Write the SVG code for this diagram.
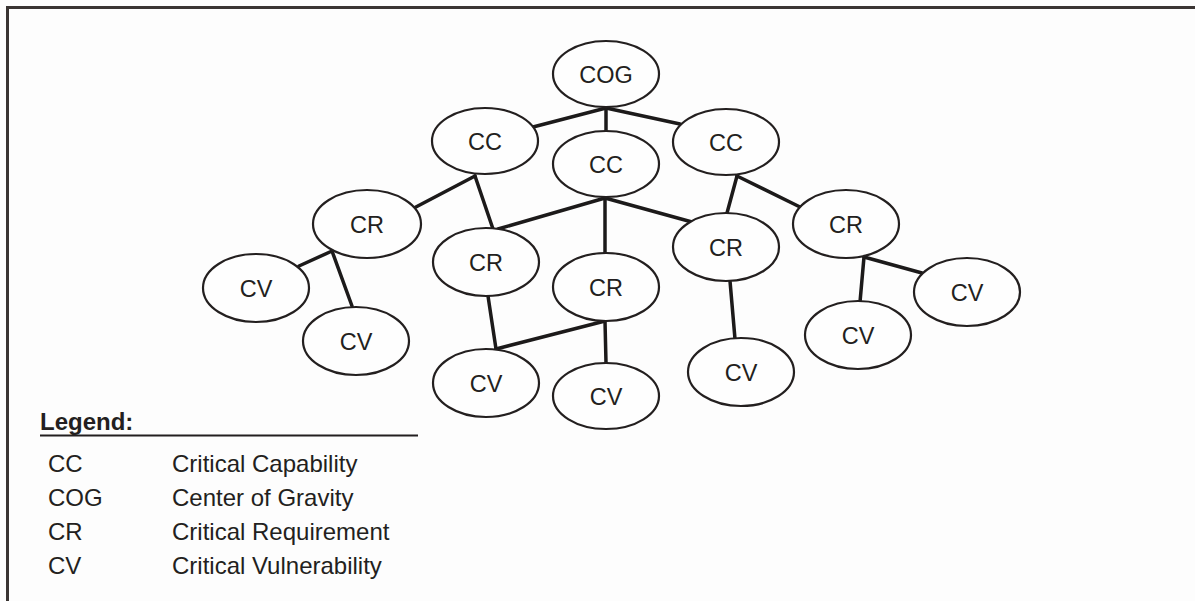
<svg xmlns="http://www.w3.org/2000/svg" width="1195" height="601" viewBox="0 0 1195 601">
<style>
.bg{fill:#fdfdfd}
.frame{stroke:#3a3533;stroke-width:3;fill:none}
.node ellipse{fill:#fefefe;stroke:#231f1f;stroke-width:2.2}
.node text,.legend text{font-family:"Liberation Sans",Arial,sans-serif;font-size:23.5px;fill:#231f20}
.legend text{font-size:24px}
.node text{text-anchor:middle}
#connectors line{stroke:#1c1a1a;stroke-width:3.5;stroke-linecap:round}
.legend .title{font-weight:bold}
</style>
<rect class="bg" x="0" y="0" width="1195" height="601"/>
<path class="frame" d="M7.5,601 V7.5 H1195"/>
<g id="connectors">
<line x1="606" y1="108" x2="533" y2="127"/>
<line x1="606" y1="108" x2="680" y2="124"/>
<line x1="606" y1="108" x2="606" y2="131"/>
<line x1="475" y1="176" x2="414" y2="208"/>
<line x1="475" y1="176" x2="493" y2="229"/>
<line x1="605" y1="198" x2="498" y2="229"/>
<line x1="605" y1="198" x2="605" y2="253"/>
<line x1="605" y1="198" x2="692" y2="222"/>
<line x1="737" y1="176" x2="727" y2="213"/>
<line x1="737" y1="176" x2="800" y2="207"/>
<line x1="332" y1="251" x2="299" y2="266"/>
<line x1="332" y1="251" x2="352" y2="306"/>
<line x1="488" y1="296" x2="496" y2="349"/>
<line x1="605" y1="321" x2="496" y2="349"/>
<line x1="605" y1="321" x2="606" y2="363"/>
<line x1="730" y1="281" x2="735" y2="339"/>
<line x1="864" y1="257" x2="860" y2="302"/>
<line x1="864" y1="257" x2="922" y2="273"/>
</g>
<g id="cog" class="node"><ellipse cx="606" cy="74" rx="53" ry="33"/><text x="606" y="82.5">COG</text></g>
<g id="cc1" class="node"><ellipse cx="485" cy="141" rx="53" ry="33"/><text x="485" y="149.5">CC</text></g>
<g id="cc2" class="node"><ellipse cx="606" cy="164" rx="53" ry="33"/><text x="606" y="172.5">CC</text></g>
<g id="cc3" class="node"><ellipse cx="726" cy="142" rx="53" ry="33"/><text x="726" y="150.5">CC</text></g>
<g id="cr1" class="node"><ellipse cx="367" cy="224" rx="54" ry="34"/><text x="367" y="232.5">CR</text></g>
<g id="cr2" class="node"><ellipse cx="486" cy="262" rx="53" ry="34"/><text x="486" y="270.5">CR</text></g>
<g id="cr3" class="node"><ellipse cx="606" cy="287" rx="53" ry="34"/><text x="606" y="295.5">CR</text></g>
<g id="cr4" class="node"><ellipse cx="726" cy="247" rx="53" ry="34"/><text x="726" y="255.5">CR</text></g>
<g id="cr5" class="node"><ellipse cx="846" cy="224" rx="53" ry="34"/><text x="846" y="232.5">CR</text></g>
<g id="cv1" class="node"><ellipse cx="256" cy="288" rx="53" ry="34"/><text x="256" y="296.5">CV</text></g>
<g id="cv2" class="node"><ellipse cx="356" cy="341" rx="53" ry="34"/><text x="356" y="349.5">CV</text></g>
<g id="cv3" class="node"><ellipse cx="486" cy="383" rx="53" ry="34"/><text x="486" y="391.5">CV</text></g>
<g id="cv4" class="node"><ellipse cx="606" cy="396" rx="53" ry="33"/><text x="606" y="404.5">CV</text></g>
<g id="cv5" class="node"><ellipse cx="741" cy="372" rx="53" ry="34"/><text x="741" y="380.5">CV</text></g>
<g id="cv6" class="node"><ellipse cx="858" cy="335" rx="53" ry="34"/><text x="858" y="343.5">CV</text></g>
<g id="cv7" class="node"><ellipse cx="967" cy="292" rx="53" ry="34"/><text x="967" y="300.5">CV</text></g>
<g id="legend" class="legend">
<text class="title" x="40" y="430">Legend:</text>
<line x1="40" y1="435.5" x2="418" y2="435.5" stroke="#231f20" stroke-width="2.2"/>
<text x="48" y="472">CC</text><text x="172" y="472">Critical Capability</text>
<text x="48" y="506">COG</text><text x="172" y="506">Center of Gravity</text>
<text x="48" y="540">CR</text><text x="172" y="540">Critical Requirement</text>
<text x="48" y="574">CV</text><text x="172" y="574">Critical Vulnerability</text>
</g>
</svg>
